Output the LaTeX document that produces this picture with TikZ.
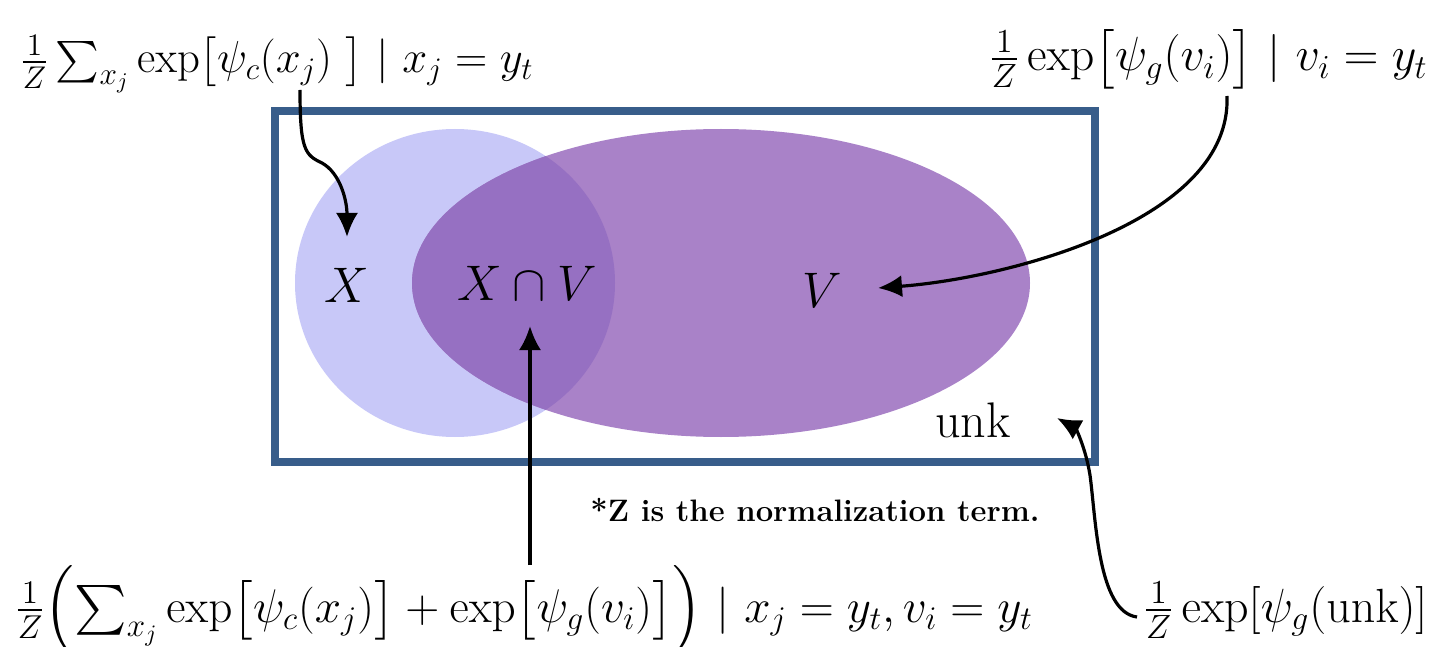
\RequirePackage{fix-cm}
\documentclass[tikz,border=0pt]{standalone}
\usepackage{amsmath}
\usetikzlibrary{arrows.meta}
\definecolor{lav}{HTML}{C8C8F8}
\definecolor{purp}{HTML}{A982C8}
\definecolor{inter}{HTML}{9670C2}
\definecolor{frame}{HTML}{385D8A}
\tikzset{
  conn/.style={line width=1.6pt,-{Latex[length=12pt,width=11pt]}},
  formula/.style={inner sep=0pt,font=\fontsize{24}{28}\selectfont},
  setlab/.style={inner sep=0pt,font=\fontsize{25}{30}\selectfont}
}
\begin{document}
\begin{tikzpicture}[x=0.5pt,y=-0.5pt]
\useasboundingbox (0,0) rectangle (1437,647);
% sets
\fill[lav] (455,283) ellipse [x radius=160, y radius=154];
\fill[purp] (721,283) ellipse [x radius=309, y radius=154];
\begin{scope}
  \clip (455,283) ellipse [x radius=160, y radius=154];
  \fill[inter] (721,283) ellipse [x radius=309, y radius=154];
\end{scope}
\draw[frame,line width=4.3pt] (275,111) rectangle (1095,462);
% labels
\node[setlab,anchor=base] (X) at (347,302) {$X$};
\node[setlab,anchor=base] (XV) at (527,300) {$X\cap V$};
\node[setlab,anchor=base] (V) at (822,307) {$V$};
\node[setlab,anchor=base] (unk) at (973,437) {unk};
% formulas
\node[formula,font=\fontsize{22.4}{28}\selectfont,anchor=base west] (fX) at (20,73)
  {$\frac{1}{Z}\sum_{x_j}\exp\bigl[\psi_c(x_j)\ \bigr]\ |\ x_j=y_t$};
\node[formula,anchor=base east] (fV) at (1428,71)
  {$\frac{1}{Z}\exp\bigl[\psi_g(v_i)\bigr]\ |\ v_i=y_t$};
\node[formula,font=\fontsize{23.6}{28}\selectfont,anchor=base west] (fXV) at (15,622)
  {$\frac{1}{Z}\Bigl(\sum_{x_j}\exp\bigl[\psi_c(x_j)\bigr]+\exp\bigl[\psi_g(v_i)\bigr]\Bigr)\ |\ x_j=y_t, v_i=y_t$};
\node[formula,anchor=base east] (fU) at (1428,622)
  {$\frac{1}{Z}\exp[\psi_g(\mathrm{unk})]$};
\node[inner sep=0pt,font=\fontsize{15.5}{18}\selectfont\bfseries,anchor=base west] (note) at (590,521)
  {*Z is the normalization term.};
% anchor coordinates
\coordinate (s1) at (300,90);
\coordinate (t1) at (347,237);
\coordinate (s2) at (1227,96);
\coordinate (t2) at (878,288);
\coordinate (s3) at (530,565);
\coordinate (t3) at (530,326);
\coordinate (s4) at (1137,617);
\coordinate (t4) at (1057,418);
% connectors
\draw[conn] (s1) .. controls (300,150) and (305,155) .. (322,163)
  .. controls (340,173) and (347,200) .. (t1);
\draw[conn] (s2) .. controls (1232,220) and (1010,278) .. (t2);
\draw[conn] (s3) -- (t3);
\draw[conn] (s4) .. controls (1098,612) and (1096,520) .. (1090,475)
  .. controls (1085,445) and (1075,428) .. (t4);
\end{tikzpicture}
\end{document}
